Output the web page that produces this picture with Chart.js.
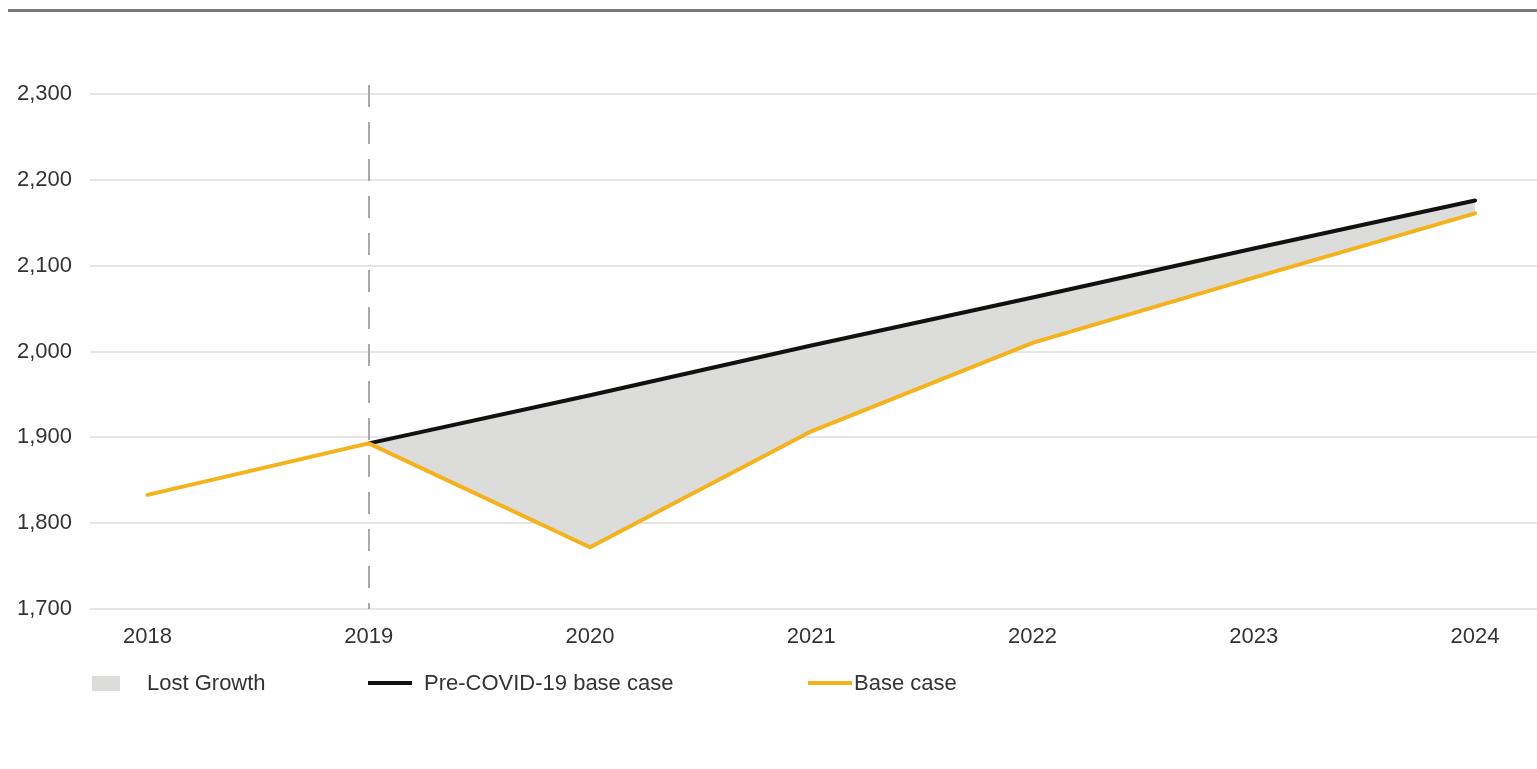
<!DOCTYPE html>
<html>
<head>
<meta charset="utf-8">
<script src="https://cdn.jsdelivr.net/npm/chart.js@4"></script>
<style>
  html,body{margin:0;padding:0;background:#fff;}
  body{width:1537px;height:769px;position:relative;overflow:hidden;font-family:"Liberation Sans",Arial,sans-serif;}
  .topRule{position:absolute;left:8px;right:0;top:9px;height:3px;background:#7a7a7a;}
  #wrap{position:absolute;left:0;top:0;width:1537px;height:769px;}
  .legend{position:absolute;top:671px;font-size:22px;color:#333;line-height:24px;}
  .legend span.sw{position:absolute;}
</style>
</head>
<body>
<div class="topRule"></div>
<div id="wrap"><canvas id="chart"></canvas></div>
<div class="legend" style="left:92px;"><span class="sw" style="left:0;top:5px;width:28px;height:15px;background:#dcdcdb;"></span><span style="position:absolute;left:55px;white-space:nowrap;">Lost Growth</span></div>
<div class="legend" style="left:368px;"><span class="sw" style="left:0;top:10px;width:44px;height:4px;background:#111;"></span><span style="position:absolute;left:56px;white-space:nowrap;">Pre-COVID-19 base case</span></div>
<div class="legend" style="left:808px;"><span class="sw" style="left:0;top:10px;width:44px;height:4px;background:#f4b21c;"></span><span style="position:absolute;left:46px;white-space:nowrap;">Base case</span></div>
<script>
// data
const years = [2018, 2019, 2020, 2021, 2022, 2023, 2024];
const baseCase = [1833, 1893, 1772, 1907, 2010, 2086, 2161];
const preCovid = [null, 1893, 1949, 2007, 2063, 2120, 2176];
const yTicks = [1700, 1800, 1900, 2000, 2100, 2200, 2300];
const markerYear = 2019;

(function(){
  const toXY = (vals)=> years.map((y,i)=>({x:y, y:vals[i]}));

  // dashed vertical marker at 2019
  const markerLine = {
    id:'markerLine',
    beforeDatasetsDraw(chart){
      const {ctx, scales} = chart;
      const x = Math.round(scales.x.getPixelForValue(markerYear));
      const bottom = chart.chartArea.bottom;
      ctx.save();
      ctx.strokeStyle = '#a9a9a9';
      ctx.lineWidth = 2;
      ctx.setLineDash([22,15]);
      ctx.beginPath();
      ctx.moveTo(x, chart.chartArea.top - 9);
      ctx.lineTo(x, bottom);
      ctx.stroke();
      ctx.restore();
    }
  };

  const tickFont = { family:'Liberation Sans', size:22 };

  new Chart(document.getElementById('chart'), {
    type:'line',
    data:{
      datasets:[
        {
          label:'Base case',
          data: toXY(baseCase),
          borderColor:'#f4b21c',
          borderWidth:4,
          borderCapStyle:'round',
          pointRadius:0,
          tension:0,
          fill:false
        },
        {
          label:'Pre-COVID-19 base case',
          data: toXY(preCovid),
          borderColor:'#111111',
          borderWidth:4,
          borderCapStyle:'round',
          pointRadius:0,
          tension:0,
          spanGaps:false,
          fill:{target:0},
          backgroundColor:'#dcdcdb'
        }
      ]
    },
    options:{
      responsive:true,
      maintainAspectRatio:false,
      animation:false,
      layout:{ padding:{ top:94, right:0, bottom:110, left:0 } },
      plugins:{ legend:{display:false}, tooltip:{enabled:false} },
      scales:{
        x:{
          type:'linear',
          min:2017.74,
          max:2024.28,
          afterBuildTicks:(s)=>{ s.ticks = years.map(v=>({value:v})); },
          afterFit:(s)=>{ s.height = 50; },
          grid:{ display:false },
          border:{ display:false },
          ticks:{ color:'#333', font:tickFont, padding:7, callback:(v)=>String(v) }
        },
        y:{
          min:1700,
          max:2300,
          afterBuildTicks:(s)=>{ s.ticks = yTicks.map(v=>({value:v})); },
          afterFit:(s)=>{ s.width = 90; },
          grid:{ color:'#e6e6e6', lineWidth:2, drawTicks:false },
          border:{ display:false },
          ticks:{ color:'#333', font:tickFont, padding:18,
                  callback:(v)=> v.toLocaleString('en-US') }
        }
      }
    },
    plugins:[markerLine]
  });
})();
</script>
</body>
</html>
